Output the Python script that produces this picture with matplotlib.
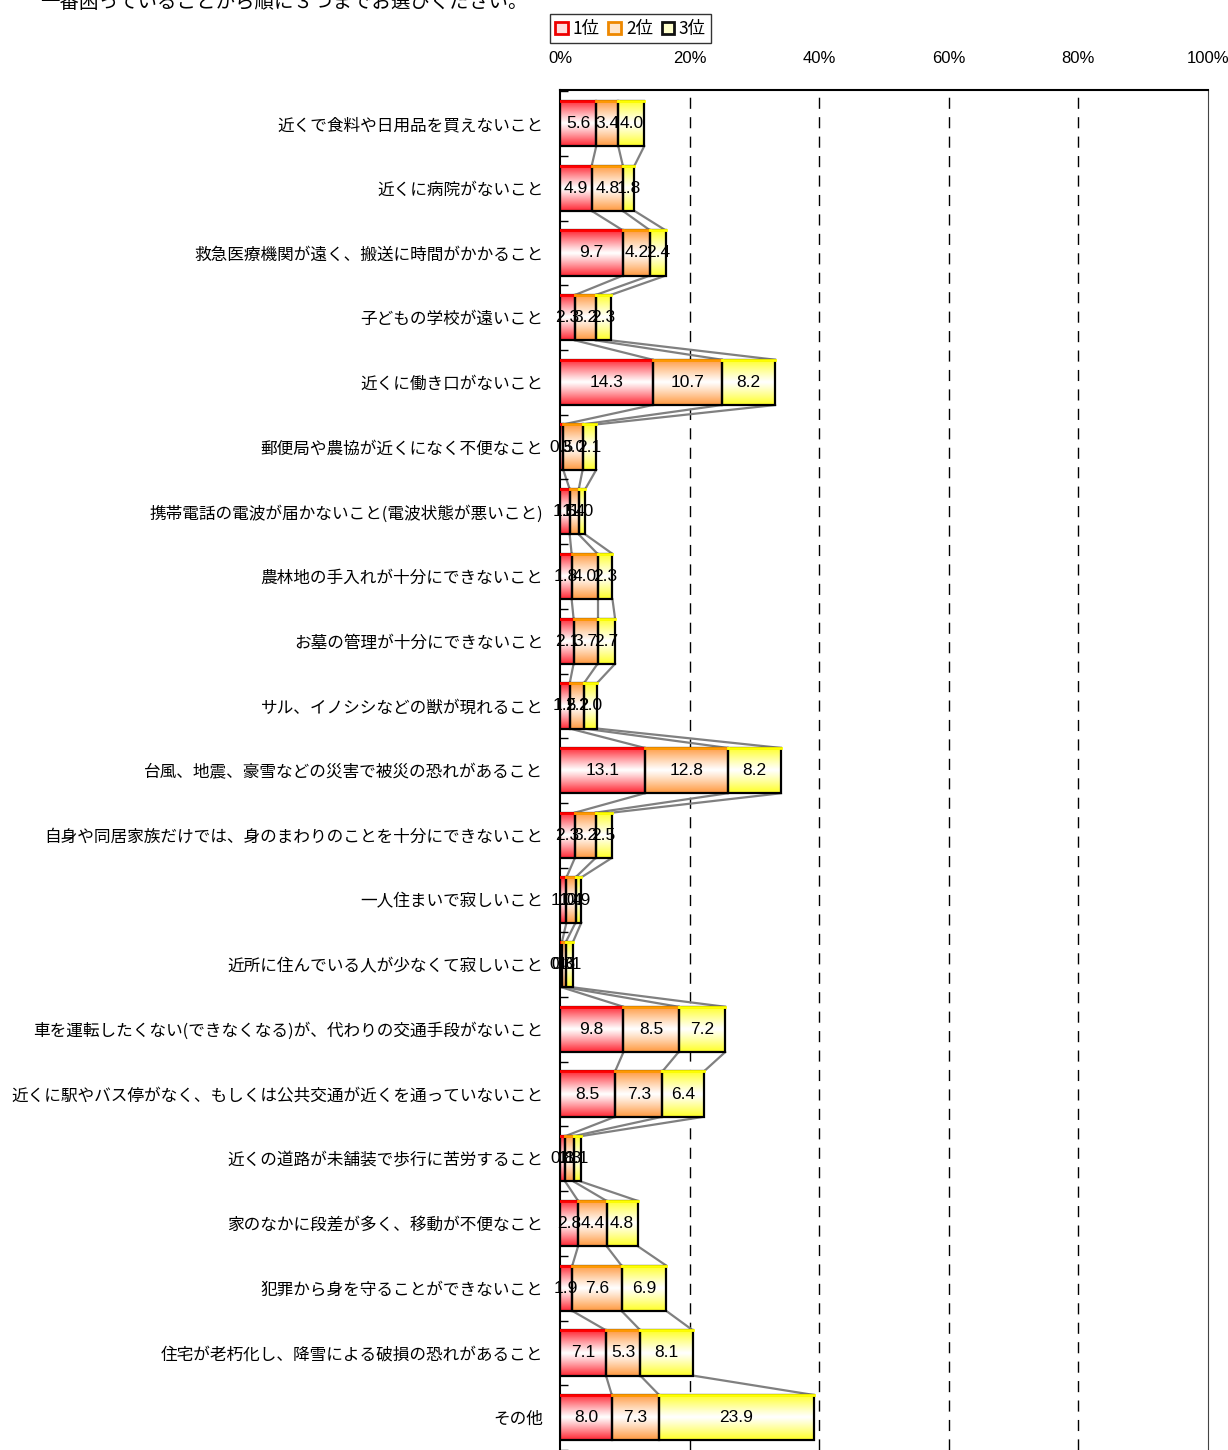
import numpy as np
import matplotlib
matplotlib.use("Agg")
import matplotlib.pyplot as plt
from matplotlib.patches import Rectangle, Patch

plt.rcParams['font.family'] = ['Noto Sans CJK JP', 'DejaVu Sans']

categories = [
    "近くで食料や日用品を買えないこと",
    "近くに病院がないこと",
    "救急医療機関が遠く、搬送に時間がかかること",
    "子どもの学校が遠いこと",
    "近くに働き口がないこと",
    "郵便局や農協が近くになく不便なこと",
    "携帯電話の電波が届かないこと(電波状態が悪いこと)",
    "農林地の手入れが十分にできないこと",
    "お墓の管理が十分にできないこと",
    "サル、イノシシなどの獣が現れること",
    "台風、地震、豪雪などの災害で被災の恐れがあること",
    "自身や同居家族だけでは、身のまわりのことを十分にできないこと",
    "一人住まいで寂しいこと",
    "近所に住んでいる人が少なくて寂しいこと",
    "車を運転したくない(できなくなる)が、代わりの交通手段がないこと",
    "近くに駅やバス停がなく、もしくは公共交通が近くを通っていないこと",
    "近くの道路が未舗装で歩行に苦労すること",
    "家のなかに段差が多く、移動が不便なこと",
    "犯罪から身を守ることができないこと",
    "住宅が老朽化し、降雪による破損の恐れがあること",
    "その他",
]
rank1 = [5.6, 4.9, 9.7, 2.3, 14.3, 0.5, 1.5, 1.8, 2.1, 1.5, 13.1,
         2.3, 1.0, 0.3, 9.8, 8.5, 0.8, 2.8, 1.9, 7.1, 8.0]
rank2 = [3.4, 4.8, 4.2, 3.2, 10.7, 3.0, 1.4, 4.0, 3.7, 2.2, 12.8,
         3.2, 1.4, 0.6, 8.5, 7.3, 1.3, 4.4, 7.6, 5.3, 7.3]
rank3 = [4.0, 1.8, 2.4, 2.3, 8.2, 2.1, 1.0, 2.3, 2.7, 2.0, 8.2,
         2.5, 0.9, 1.1, 7.2, 6.4, 1.1, 4.8, 6.9, 8.1, 23.9]
series_names = ["1位", "2位", "3位"]
series_colors = [(1.0, 0.15, 0.2), (1.0, 0.6, 0.25), (1.0, 1.0, 0.15)]
edge_colors = ["#ff0000", "#ff9900", "#ffff00"]
title = "一番困っていることから順に３つまでお選びください。"
num_font = ["Liberation Sans", "DejaVu Sans"]

fig = plt.figure(figsize=(12.28, 14.5), dpi=100)
ax = fig.add_axes([0.456, 0.0, 0.5277, 0.938])

n = len(categories)
bar_h = 0.7
values = [rank1, rank2, rank3]
y = np.arange(n)
left = np.zeros(n)
rights = []

t = np.linspace(0, 1, 64).reshape(-1, 1)
w = np.abs(2 * t - 1) ** 1.1

for k, vals in enumerate(values):
    vals = np.array(vals)
    base = np.array(series_colors[k])
    grad = (1 - w)[..., None] * np.ones(3) + w[..., None] * base
    grad = grad.reshape(64, 1, 3)
    for i in range(n):
        x0, x1 = left[i], left[i] + vals[i]
        y0, y1 = y[i] - bar_h / 2, y[i] + bar_h / 2
        rect = Rectangle((x0, y0), vals[i], bar_h, facecolor="none",
                         edgecolor="black", lw=1.6, zorder=3)
        ax.add_patch(rect)
        im = ax.imshow(grad, extent=[x0, x1, y1, y0], aspect="auto",
                       zorder=2, interpolation="bilinear")
        im.set_clip_path(rect)
        ax.plot([x0, x1], [y0, y0], color=edge_colors[k], lw=2, zorder=4)
        ax.text((x0 + x1) / 2, y[i], f"{vals[i]:.1f}", ha="center",
                va="center", fontsize=12.5, zorder=5, family=num_font)
    left = left + vals
    rights.append(left.copy())

# series lines between bars
for r in rights:
    for i in range(n - 1):
        ax.plot([r[i], r[i + 1]], [y[i] + bar_h / 2, y[i + 1] - bar_h / 2],
                color="#808080", lw=1.6, zorder=1)

ax.set_xlim(0, 100)
ax.set_ylim(20.42, -0.52)
ax.xaxis.tick_top()
ax.set_xticks([0, 20, 40, 60, 80, 100])
ax.set_xticklabels(["0%", "20%", "40%", "60%", "80%", "100%"],
                   family=num_font, fontsize=12)
ax.tick_params(axis="x", length=0, pad=17)
for gx in [20, 40, 60, 80]:
    ax.axvline(gx, color="black", lw=1, ls=(0, (8, 6)), zorder=0)

ax.set_yticks(y)
ax.set_yticklabels(categories, fontsize=12)
ax.tick_params(axis="y", length=0, pad=12)
ax.set_yticks(np.arange(-0.5, n, 1), minor=True)
ax.tick_params(axis="y", which="minor", direction="in", length=6, width=1)

for s in ["top", "left"]:
    ax.spines[s].set_linewidth(1.5)
ax.spines["bottom"].set_visible(False)
ax.spines["right"].set_color("#444444")

handles = [Patch(facecolor="#ffdddd", edgecolor="#ee0000", lw=2),
           Patch(facecolor="#ffe6cc", edgecolor="#ee8800", lw=2),
           Patch(facecolor="#ffffcc", edgecolor="#111111", lw=2)]
leg = fig.legend(handles, series_names, loc="upper left",
                 bbox_to_anchor=(0.441, 0.996), ncol=3, fontsize=12.5,
                 frameon=True, fancybox=False, edgecolor="black",
                 handlelength=0.7, handleheight=0.7, handletextpad=0.3,
                 columnspacing=0.5, borderpad=0.3)
leg.get_frame().set_linewidth(1)

fig.text(0.033, 0.9985, title, fontsize=14, ha="left", va="center")

fig.savefig("out.png", dpi=100)
